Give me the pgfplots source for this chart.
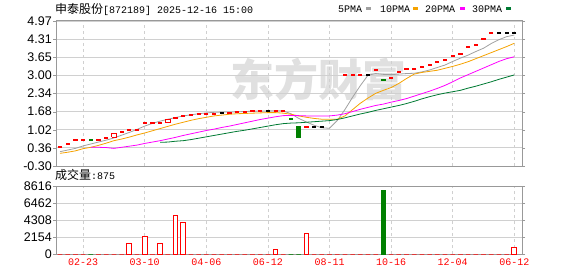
\documentclass[border=0pt]{standalone}
\usepackage{pgfplots}
\pgfplotsset{compat=1.18}
\usepackage{fontspec}
\setmainfont{Liberation Sans}
\setmonofont{Liberation Mono}
\newfontfamily\cjk{Noto Sans CJK SC}
\definecolor{cred}{HTML}{FF0000}
\definecolor{cgreen}{HTML}{008000}
\definecolor{maA}{HTML}{A0A0A0}
\definecolor{maB}{HTML}{F5A200}
\definecolor{maC}{HTML}{FF00FF}
\definecolor{maD}{HTML}{007A33}
\definecolor{frame}{HTML}{999999}
\definecolor{gridc}{HTML}{D0D0D0}
\newcommand\tf{\fontsize{10}{12}\selectfont\ttfamily}
\pgfplotsset{
  kbase/.style={
    scale only axis, width=466pt, anchor=south west,
    xmin=-0.52, xmax=60,
    axis line style={frame, line width=1pt},
    xtick={3,11,19,27,35,43,51,59},
    xmajorgrids, ymajorgrids,
    x grid style={dashed, gridc, line width=0.8pt},
    y grid style={solid, gridc, line width=0.8pt},
    xtick style={draw=none},
    ytick style={frame},
    tick align=outside, major tick length=3pt,
    yticklabel style={font=\fontsize{12.5}{12}\selectfont, text=black, inner sep=1pt},
    clip=false,
  },
  dash/.style={only marks, mark=-, mark size=2.1pt, mark options={line width=2pt, #1}},
}
\begin{document}
\begin{tikzpicture}
\useasboundingbox (0,0) rectangle (578pt,276pt);
% watermark
\node[text=black!12, font=\cjk\fontsize{44}{44}\selectfont\bfseries] at (318pt,196pt) {东方财富};
% header
\node[anchor=west, inner sep=0pt] at (55pt,267pt) {{\cjk\fontsize{12}{12}\selectfont 申泰股份}\tf[872189] 2025-12-16 15:00};
\node[anchor=west, inner sep=0pt] at (338pt,267pt) {\tf 5PMA};
\fill[maA] (366pt,265.5pt) rectangle (371pt,268.5pt);
\node[anchor=west, inner sep=0pt] at (380pt,267pt) {\tf 10PMA};
\fill[maB] (413pt,265.5pt) rectangle (418pt,268.5pt);
\node[anchor=west, inner sep=0pt] at (425pt,267pt) {\tf 20PMA};
\fill[maC] (460pt,265.5pt) rectangle (465pt,268.5pt);
\node[anchor=west, inner sep=0pt] at (472pt,267pt) {\tf 30PMA};
\fill[maD] (506pt,265.5pt) rectangle (511pt,268.5pt);
\node[anchor=west, inner sep=0pt] at (55pt,101pt) {{\cjk\fontsize{12}{12}\selectfont 成交量}\tf :875};

% ---------------- price panel ----------------
\begin{axis}[kbase, at={(56pt,110pt)}, height=145pt,
  ymin=-0.30, ymax=4.97,
  ytick={-0.30,0.35875,1.0175,1.67625,2.335,2.99375,3.6525,4.31125,4.97},
  yticklabels={-0.30,0.36,1.02,1.68,2.34,3.00,3.65,4.31,4.97},
  xticklabels={}]
% MA5
\addplot[maA, line width=0.8pt] coordinates {
(0,0.22)(1,0.28)(2,0.34)(3,0.43)(4,0.50)(5,0.57)(6,0.64)(7,0.72)(8,0.82)(9,0.92)
(10,1.03)(11,1.15)(12,1.25)(13,1.33)(14,1.40)(15,1.46)(16,1.52)(17,1.56)(18,1.60)(19,1.63)
(20,1.65)(21,1.66)(22,1.66)(23,1.67)(24,1.68)(25,1.69)(26,1.70)(27,1.70)(28,1.71)(29,1.70)
(30,1.60)(31,1.43)(32,1.30)(33,1.18)(34,1.09)(35,1.07)(36,1.35)(37,1.75)(38,2.20)(39,2.62)
(40,3.00)(41,3.06)(42,3.03)(43,3.02)(44,3.04)(45,3.06)(46,3.07)(47,3.12)(48,3.19)(49,3.28)
(50,3.37)(51,3.50)(52,3.62)(53,3.73)(54,3.86)(55,3.98)(56,4.15)(57,4.29)(58,4.40)(59,4.46)};
% MA10
\addplot[maB, line width=0.8pt] coordinates {
(0,0.16)(1,0.20)(2,0.25)(3,0.33)(4,0.38)(5,0.45)(6,0.53)(7,0.62)(8,0.68)(9,0.75)
(10,0.83)(11,0.90)(12,0.98)(13,1.06)(14,1.14)(15,1.22)(16,1.29)(17,1.36)(18,1.42)(19,1.47)
(20,1.52)(21,1.55)(22,1.58)(23,1.60)(24,1.61)(25,1.62)(26,1.63)(27,1.64)(28,1.64)(29,1.62)
(30,1.58)(31,1.52)(32,1.47)(33,1.43)(34,1.40)(35,1.40)(36,1.40)(37,1.52)(38,1.75)(39,1.98)
(40,2.17)(41,2.34)(42,2.45)(43,2.55)(44,2.70)(45,2.88)(46,3.04)(47,3.10)(48,3.14)(49,3.18)
(50,3.25)(51,3.32)(52,3.40)(53,3.49)(54,3.60)(55,3.71)(56,3.82)(57,3.93)(58,4.04)(59,4.16)};
% MA20
\addplot[maC, line width=0.8pt] coordinates {
(4,0.38)(5,0.38)(6,0.37)(7,0.34)(8,0.38)(9,0.42)
(10,0.46)(11,0.52)(12,0.57)(13,0.62)(14,0.68)(15,0.74)(16,0.81)(17,0.87)(18,0.93)(19,0.99)
(20,1.04)(21,1.10)(22,1.15)(23,1.21)(24,1.27)(25,1.33)(26,1.39)(27,1.44)(28,1.49)(29,1.53)
(30,1.54)(31,1.53)(32,1.52)(33,1.52)(34,1.52)(35,1.52)(36,1.55)(37,1.60)(38,1.68)(39,1.76)
(40,1.83)(41,1.90)(42,1.95)(43,2.02)(44,2.08)(45,2.15)(46,2.24)(47,2.33)(48,2.42)(49,2.52)
(50,2.63)(51,2.76)(52,2.90)(53,3.02)(54,3.14)(55,3.26)(56,3.38)(57,3.50)(58,3.60)(59,3.67)};
% MA30
\addplot[maD, line width=0.8pt] coordinates {
(13,0.56)(14,0.57)(15,0.60)(16,0.62)(17,0.66)(18,0.71)(19,0.76)
(20,0.81)(21,0.86)(22,0.91)(23,0.96)(24,1.00)(25,1.05)(26,1.10)(27,1.15)(28,1.20)(29,1.24)
(30,1.26)(31,1.27)(32,1.29)(33,1.31)(34,1.33)(35,1.35)(36,1.39)(37,1.45)(38,1.52)(39,1.59)
(40,1.65)(41,1.72)(42,1.78)(43,1.84)(44,1.90)(45,1.97)(46,2.05)(47,2.14)(48,2.22)(49,2.29)
(50,2.35)(51,2.40)(52,2.45)(53,2.53)(54,2.60)(55,2.68)(56,2.76)(57,2.85)(58,2.93)(59,3.01)};
% candles: red dojis
\addplot[dash=cred] coordinates {
(0,0.38)(1,0.50)(2,0.65)(3,0.65)(5,0.66)(6,0.70)(8,0.93)(9,1.00)(10,1.00)(11,1.25)(12,1.25)(13,1.27)
(15,1.45)(16,1.50)(17,1.55)(18,1.60)(19,1.60)(20,1.60)(22,1.62)(23,1.65)(24,1.68)(25,1.70)(26,1.71)(28,1.71)(29,1.71)
(32,1.11)(37,3.00)(38,3.00)(39,3.00)(41,3.18)(43,2.90)(44,3.10)(45,3.21)(46,3.21)(47,3.31)(48,3.37)
(49,3.48)(50,3.55)(51,3.70)(52,3.77)(53,4.04)(54,4.09)(55,4.32)(56,4.52)};
% black dojis
\addplot[dash=black] coordinates {(21,1.62)(27,1.71)(33,1.11)(34,1.11)(40,3.00)(57,4.52)(58,4.52)(59,4.52)};
% green dojis
\addplot[dash=cgreen] coordinates {(4,0.65)(30,1.40)(42,2.81)};
% hollow red bodies
\addplot[cred, line width=1pt] coordinates {(6.7,0.74)(7.3,0.74)(7.3,0.89)(6.7,0.89)(6.7,0.74)};
\addplot[cred, line width=1pt] coordinates {(13.7,1.27)(14.3,1.27)(14.3,1.40)(13.7,1.40)(13.7,1.27)};
% green body
\addplot[cgreen, line width=4.7pt] coordinates {(31,1.15)(31,0.73)};
\end{axis}

% ---------------- volume panel ----------------
\begin{axis}[kbase, at={(56pt,22pt)}, height=68pt,
  ymin=0, ymax=8616,
  ytick={0,2154,4308,6462,8616},
  yticklabels={0,2154,4308,6462,8616},
  xticklabels={02-23,03-10,04-06,06-12,08-11,10-16,12-04,06-12},
  xticklabel style={font=\tf, text=cred, inner sep=2pt}]
\addplot[ybar, bar width=4.7pt, bar shift=0pt, draw=cred, fill=white, line width=1pt] coordinates {
(0,0)(1,0)(2,0)(3,0)(5,0)(6,0)(7,0)(8,0)(9,1350)(10,0)(11,2250)(12,0)(13,1290)(14,0)(15,4920)(16,4050)(17,0)(18,0)(19,0)
(20,0)(21,0)(22,0)(23,0)(24,0)(25,0)(26,0)(27,0)(28,520)(29,0)(32,2650)(33,0)(34,0)(35,0)(36,0)(37,0)(38,0)(39,0)
(40,0)(41,0)(43,0)(44,0)(45,0)(46,0)(47,0)(48,0)(49,0)(50,0)(51,0)(52,0)(53,0)(54,0)(55,0)(56,0)(57,0)(58,0)(59,875)};
\addplot[ybar, bar width=4.7pt, bar shift=0pt, draw=cgreen, fill=cgreen, line width=1pt] coordinates {
(4,0)(30,0)(31,0)(42,7990)};
\end{axis}
\end{tikzpicture}
\end{document}
